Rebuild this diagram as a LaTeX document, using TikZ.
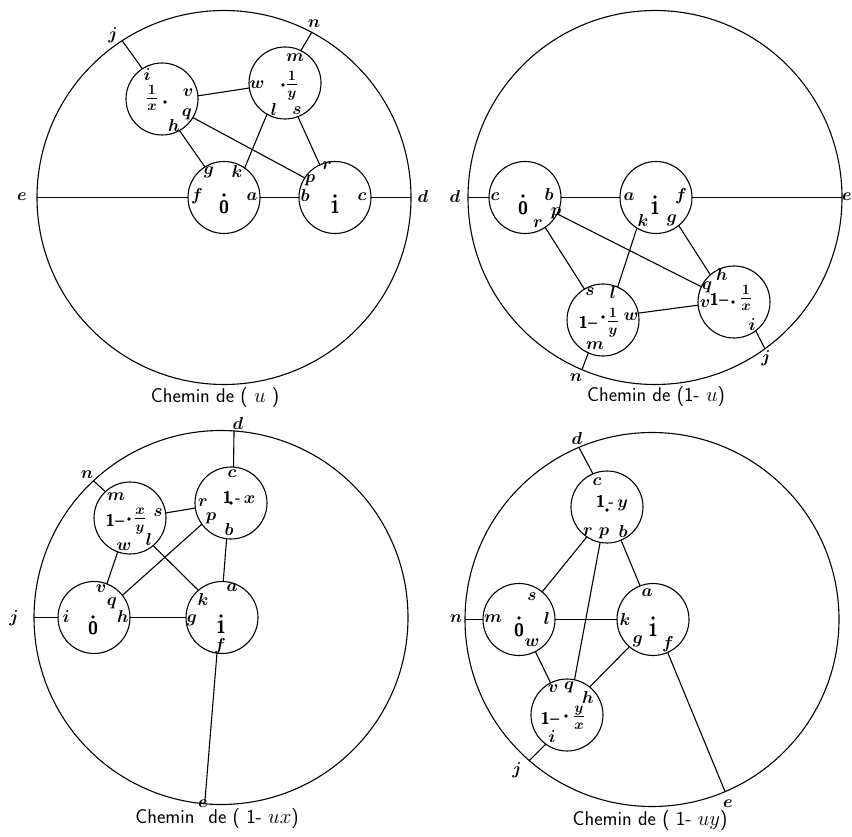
\documentclass[tikz,border=0pt]{standalone}
\usepackage{amsmath}
\begin{document}
\begin{tikzpicture}[x=1pt,y=-1pt,
  big/.style={circle,draw,line width=1.1pt,minimum size=374pt,inner sep=0pt,outer sep=0pt},
  small/.style={circle,draw,line width=1.1pt,minimum size=72pt,inner sep=0pt,outer sep=0pt},
  conn/.style={line width=1.1pt},
  lab/.style={inner sep=0pt,font=\boldmath\fontsize{17.28}{18}\selectfont},
  frc/.style={inner sep=0pt,font=\boldmath\fontsize{20.74}{21}\selectfont},
  num/.style={inner sep=0pt,font=\sffamily\bfseries\fontsize{18}{18}\selectfont},
  numsm/.style={inner sep=0pt,font=\boldmath\sffamily\bfseries\fontsize{17}{17}\selectfont},
  pt/.style={circle,fill,inner sep=0pt,minimum size=3.6pt},
  captext/.style={inner sep=0pt,font=\sffamily\fontsize{20}{20}\selectfont}]
\useasboundingbox (0,0) rectangle (852,837);
\fill[white] (0,0) rectangle (852,837);

% ================= Panel 1 : Chemin de (u)
\node[big]   (O1) at (224,197.5) {};
\node[small] (A1) at (162,99) {};
\node[small] (B1) at (285,83) {};
\node[small] (Z1) at (224,197.5) {};
\node[small] (U1) at (335,197.5) {};
\draw[conn] (O1.180) -- (Z1.180);
\draw[conn] (Z1.0) -- (U1.180);
\draw[conn] (U1.0) -- (O1.0);
\draw[conn] (O1.123) -- (A1.123);
\draw[conn] (O1.62) -- (B1.64);
\draw[conn] (A1.5) -- (B1.188);
\draw[conn] (A1.329) -- (U1.147);
\draw[conn] (A1.299) -- (Z1.122);
\draw[conn] (B1.240) -- (Z1.55);
\draw[conn] (B1.291) -- (U1.115);
\node[lab] (t1j) at (113,35) {$j$};
\node[lab] (t1n) at (314,24) {$n$};
\node[lab] (t1i) at (147,75) {$i$};
\node[lab] (t1v) at (188,93) {$v$};
\node[lab] (t1q) at (187,114) {$q$};
\node[lab] (t1h) at (174,126) {$h$};
\node[lab] (t1m) at (295,58) {$m$};
\node[lab] (t1w) at (257,85) {$w$};
\node[lab] (t1l) at (274,110) {$l$};
\node[lab] (t1s) at (297,111) {$s$};
\node[lab] (t1g) at (209,172) {$g$};
\node[lab] (t1k) at (237,172) {$k$};
\node[lab] (t1f) at (197,196) {$f$};
\node[lab] (t1a) at (252,197) {$a$};
\node[lab] (t1b) at (305,196) {$b$};
\node[lab] (t1p) at (310,180) {$p$};
\node[lab] (t1r) at (327,166) {$r$};
\node[lab] (t1c) at (362,197) {$c$};
\node[lab] (t1e) at (22,197) {$e$};
\node[lab] (t1d) at (423,197) {$d$};
\node[num] (t1zero) at (224,207) {0};
\node[pt]  (d1zero) at (224,195) {};
\node[num] (t1one) at (335,207) {1};
\node[pt]  (d1one) at (335,196) {};
\node[frc] (t1fx) at (152,98) {$\frac{1}{x}$};
\node[pt]  (d1fx) at (165,102) {};
\node[pt]  (d1fy) at (283,85) {};
\node[frc] (t1fy) at (292,86) {$\frac{1}{y}$};
\node[captext] (c1) at (215,398) {Chemin de ( $u$ )};

% ================= Panel 2 : Chemin de (1-u)
\node[big]   (O2) at (655,197.5) {};
\node[small] (Z2) at (525,197.5) {};
\node[small] (U2) at (656,197.5) {};
\node[small] (Y2) at (603,320) {};
\node[small] (X2) at (734,302) {};
\draw[conn] (O2.180) -- (Z2.180);
\draw[conn] (Z2.0) -- (U2.180);
\draw[conn] (U2.0) -- (O2.0);
\draw[conn] (Z2.333) -- (X2.155);
\draw[conn] (Z2.304) -- (Y2.121);
\draw[conn] (U2.238) -- (Y2.66);
\draw[conn] (U2.309) -- (X2.131);
\draw[conn] (Y2.11) -- (X2.185);
\draw[conn] (Y2.246) -- (O2.247);
\draw[conn] (X2.307) -- (O2.306);
\node[lab] (t2d) at (455,197) {$d$};
\node[lab] (t2c) at (495,197) {$c$};
\node[lab] (t2b) at (549,195) {$b$};
\node[lab] (t2p) at (556,213) {$p$};
\node[lab] (t2r) at (538,224) {$r$};
\node[lab] (t2a) at (629,197) {$a$};
\node[lab] (t2f) at (681,196) {$f$};
\node[lab] (t2k) at (643,221) {$k$};
\node[lab] (t2g) at (672,220) {$g$};
\node[lab] (t2e) at (847,197) {$e$};
\node[lab] (t2s) at (590,292) {$s$};
\node[lab] (t2l) at (613,293) {$l$};
\node[lab] (t2w) at (631,317) {$w$};
\node[lab] (t2m) at (595,346) {$m$};
\node[lab] (t2n) at (576,378) {$n$};
\node[lab] (t2h) at (722,275) {$h$};
\node[lab] (t2q) at (707,287) {$q$};
\node[lab] (t2v) at (705,304) {$v$};
\node[lab] (t2i) at (752,325) {$i$};
\node[lab] (t2j) at (766,358) {$j$};
\node[num] (t2zero) at (523,208) {0};
\node[pt]  (d2zero) at (523,196) {};
\node[num] (t2one) at (655,208) {1};
\node[pt]  (d2one) at (655,197) {};
\node[numsm] (t2ya) at (588,322) {1\textendash};
\node[pt]  (d2y) at (603,317) {};
\node[frc] (t2yb) at (613,323) {$\frac{1}{y}$};
\node[numsm] (t2xa) at (719,299) {1\textendash};
\node[pt]  (d2x) at (733,302) {};
\node[frc] (t2xb) at (746,298) {$\frac{1}{x}$};
\node[captext] (c2) at (656,397) {Chemin de (1- $u$)};

% ================= Panel 3 : Chemin de (1-ux)
\node[big]   (O3) at (221,617.5) {};
\node[small] (M3) at (130,518) {};
\node[small] (X3) at (231,503) {};
\node[small] (Z3) at (94,617.5) {};
\node[small] (U3) at (222,617.5) {};
\draw[conn] (O3.86) -- (X3.86);
\draw[conn] (O3.133) -- (M3.133);
\draw[conn] (M3.8) -- (X3.188);
\draw[conn] (X3.263) -- (U3.88);
\draw[conn] (X3.216) -- (Z3.38);
\draw[conn] (M3.310) -- (U3.131);
\draw[conn] (M3.250) -- (Z3.69);
\draw[conn] (O3.180) -- (Z3.180);
\draw[conn] (Z3.0) -- (U3.180);
\draw[conn] (U3.262) -- (O3.265);
\node[lab] (t3d) at (238,423) {$d$};
\node[lab] (t3n) at (87,475) {$n$};
\node[lab] (t3m) at (116,497) {$m$};
\node[lab] (t3s) at (158,513) {$s$};
\node[lab] (t3r) at (203,503) {$r$};
\node[lab] (t3p) at (211,518) {$p$};
\node[lab] (t3b) at (229,529) {$b$};
\node[lab] (t3c) at (232,474) {$c$};
\node[lab] (t3w) at (124,547) {$w$};
\node[lab] (t3l) at (149,539) {$l$};
\node[lab] (t3v) at (101,589) {$v$};
\node[lab] (t3q) at (112,603) {$q$};
\node[lab] (t3h) at (123,616) {$h$};
\node[lab] (t3i) at (66,617) {$i$};
\node[lab] (t3a) at (232,588) {$a$};
\node[lab] (t3k) at (203,599) {$k$};
\node[lab] (t3g) at (192,620) {$g$};
\node[lab] (t3f) at (220,646) {$f$};
\node[lab] (t3j) at (14,618) {$j$};
\node[lab] (t3e) at (203,804) {$e$};
\node[num] (t3zero) at (93,628) {0};
\node[pt]  (d3zero) at (93,617) {};
\node[num] (t3one) at (221,627) {1};
\node[pt]  (d3one) at (221,616) {};
\node[numsm] (t3xya) at (115,520) {1\textendash};
\node[pt]  (d3xy) at (129,519) {};
\node[frc] (t3xyb) at (140,521) {$\frac{x}{y}$};
\node[numsm] (t3x) at (239,497) {1\,-\,$x$};
\node[pt]  (d3x) at (231,503) {};
\node[captext] (c3) at (217,819) {Chemin\hspace{14pt}de ( 1- $ux$)};

% ================= Panel 4 : Chemin de (1-uy)
\node[big]   (O4) at (652,619.5) {};
\node[small] (Y4) at (607,507) {};
\node[small] (Z4) at (519,619.5) {};
\node[small] (U4) at (653,619.5) {};
\node[small] (W4) at (567,715) {};
\draw[conn] (O4.113) -- (Y4.113);
\draw[conn] (Y4.236) -- (Z4.50);
\draw[conn] (Y4.259) -- (W4.78);
\draw[conn] (Y4.293) -- (U4.111);
\draw[conn] (O4.180) -- (Z4.180);
\draw[conn] (Z4.0) -- (U4.180);
\draw[conn] (Z4.297) -- (W4.117);
\draw[conn] (U4.229) -- (W4.51);
\draw[conn] (U4.294) -- (O4.293);
\draw[conn] (W4.234) -- (O4.229);
\node[lab] (t4d) at (577,438) {$d$};
\node[lab] (t4c) at (597,482) {$c$};
\node[lab] (t4r) at (588,532) {$r$};
\node[lab] (t4p) at (604,533) {$p$};
\node[lab] (t4b) at (623,531) {$b$};
\node[lab] (t4s) at (532,597) {$s$};
\node[lab] (t4m) at (493,619) {$m$};
\node[lab] (t4l) at (547,618) {$l$};
\node[lab] (t4w) at (532,643) {$w$};
\node[lab] (t4a) at (647,593) {$a$};
\node[lab] (t4k) at (625,619) {$k$};
\node[lab] (t4g) at (638,641) {$g$};
\node[lab] (t4f) at (668,644) {$f$};
\node[lab] (t4v) at (553,689) {$v$};
\node[lab] (t4q) at (569,687) {$q$};
\node[lab] (t4h) at (588,697) {$h$};
\node[lab] (t4i) at (552,737) {$i$};
\node[lab] (t4j) at (517,770) {$j$};
\node[lab] (t4n) at (456,619) {$n$};
\node[lab] (t4e) at (728,804) {$e$};
\node[num] (t4zero) at (519,630) {0};
\node[pt]  (d4zero) at (519,618) {};
\node[num] (t4one) at (653,630) {1};
\node[pt]  (d4one) at (653,618) {};
\node[numsm] (t4y) at (612,503) {1\,-\,$y$};
\node[pt]  (d4y) at (607,510) {};
\node[numsm] (t4yxa) at (550,718) {1\textendash};
\node[pt]  (d4yx) at (566,716) {};
\node[frc] (t4yxb) at (579,718) {$\frac{y}{x}$};
\node[captext] (c4) at (650,821) {Chemin de ( 1- $uy$)};
\end{tikzpicture}
\end{document}
